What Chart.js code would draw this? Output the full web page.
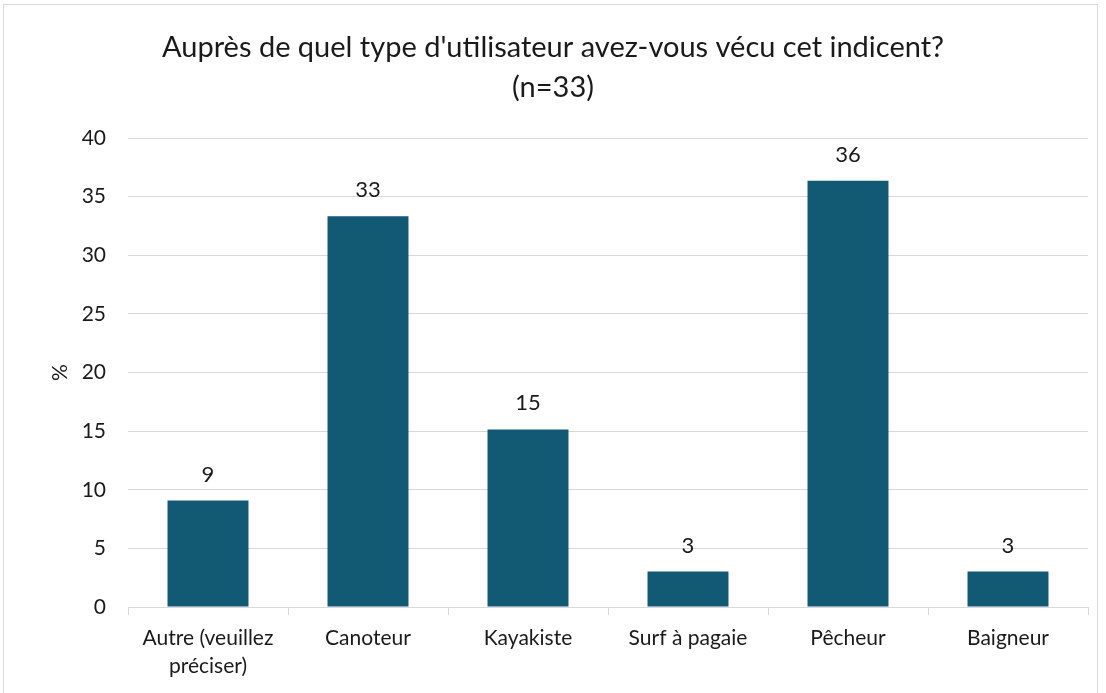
<!DOCTYPE html>
<html>
<head>
<meta charset="utf-8">
<script src="https://cdn.jsdelivr.net/npm/chart.js@4/dist/chart.umd.min.js"></script>
<style>
  html, body { margin: 0; padding: 0; background: #ffffff; }
  #wrap { position: relative; width: 1106px; height: 693px; }
  #frame { position: absolute; left: 3px; top: 4px; width: 1095px; height: 700px; border: 1px solid #d9d9d9; box-sizing: border-box; }
  canvas { position: absolute; left: 0; top: 0; }
</style>
</head>
<body>
<div id="wrap">
  <div id="frame"></div>
  <canvas id="c" width="1106" height="693"></canvas>
</div>
<script>
const titleLines = ["Auprès de quel type d'utilisateur avez-vous vécu cet indicent?", "(n=33)"];
const categories = [["Autre (veuillez", "préciser)"], "Canoteur", "Kayakiste", "Surf à pagaie", "Pêcheur", "Baigneur"];
const values = [9.09, 33.33, 15.15, 3.03, 36.36, 3.03];
const valueLabels = ["9", "33", "15", "3", "36", "3"];
const yTicks = [0, 5, 10, 15, 20, 25, 30, 35, 40];
const yAxisTitle = "%";

const FONT = "Lato, 'Open Sans', sans-serif";
const TEXT = "#1a1a1a";

const dataLabelPlugin = {
  id: 'dataLabels',
  afterDatasetsDraw(chart) {
    const ctx = chart.ctx;
    const meta = chart.getDatasetMeta(0);
    ctx.save();
    ctx.font = "22px " + FONT;
    ctx.fillStyle = TEXT;
    ctx.textAlign = "center";
    ctx.textBaseline = "middle";
    meta.data.forEach((bar, i) => {
      ctx.fillText(valueLabels[i], bar.x, bar.y - 26);
    });
    ctx.restore();
  }
};

new Chart(document.getElementById('c'), {
  type: 'bar',
  data: {
    labels: categories,
    datasets: [{
      data: values,
      backgroundColor: '#125a74',
      borderWidth: 0,
      categoryPercentage: 1,
      barPercentage: 0.506
    }]
  },
  options: {
    responsive: false,
    animation: false,
    devicePixelRatio: 1,
    layout: { padding: { left: 18, right: 18, top: 0, bottom: 0 } },
    plugins: {
      legend: { display: false },
      tooltip: { enabled: false },
      title: {
        display: true,
        text: titleLines,
        color: TEXT,
        font: { family: FONT, size: 29, weight: 'normal', lineHeight: 1.38 },
        padding: { top: 28, bottom: 30 }
      }
    },
    scales: {
      x: {
        grid: { display: true, offset: true, drawOnChartArea: false, drawTicks: true, tickLength: 8, color: '#d9d9d9' },
        border: { display: true, color: '#d9d9d9', width: 1 },
        ticks: { color: TEXT, font: { family: FONT, size: 21, lineHeight: 1.3 }, maxRotation: 0, autoSkip: false, padding: 10 },
        afterFit(scale) { scale.height = 86; }
      },
      y: {
        min: 0, max: 40,
        afterBuildTicks(scale) { scale.ticks = yTicks.map(v => ({ value: v })); },
        grid: { color: '#d9d9d9', drawTicks: false, lineWidth: 1 },
        border: { display: false },
        ticks: { color: TEXT, font: { family: FONT, size: 21 }, padding: 22 },
        title: { display: true, text: yAxisTitle, color: TEXT, font: { family: FONT, size: 21 }, padding: { top: 30, bottom: 0 } },
        afterFit(scale) { scale.width = 110; }
      }
    }
  },
  plugins: [dataLabelPlugin]
});
</script>
</body>
</html>
